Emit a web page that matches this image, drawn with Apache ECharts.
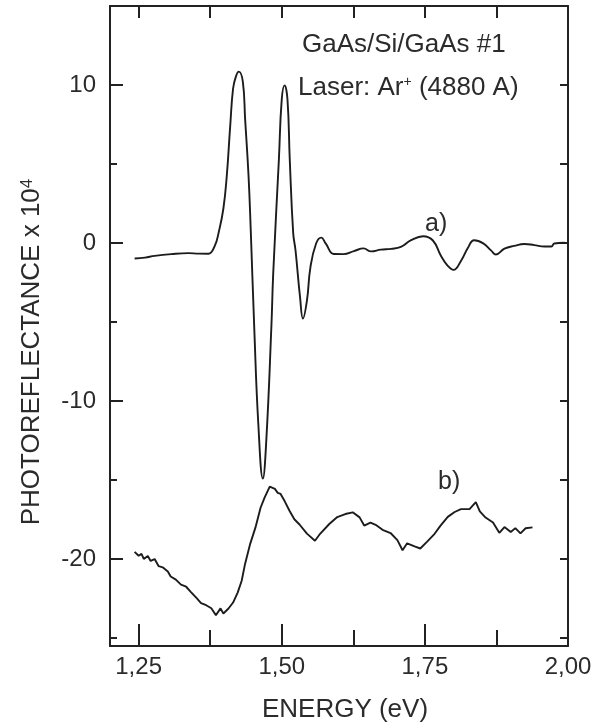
<!DOCTYPE html>
<html>
<head>
<meta charset="UTF-8">
<title>Photoreflectance GaAs/Si/GaAs</title>
<style>
  html, body { margin: 0; padding: 0; background: #fff; }
  #chart { width: 597px; height: 728px; }
</style>
</head>
<body>
<div id="chart"></div>
<script src="https://cdn.jsdelivr.net/npm/echarts@6/dist/echarts.min.js"></script>
<script>
// curve a) - laser Ar+ photoreflectance
var energyA = [1.243, 1.261, 1.278, 1.307, 1.337, 1.354, 1.372, 1.383, 1.390, 1.398,
  1.404, 1.410, 1.415, 1.420, 1.425, 1.432, 1.436, 1.442, 1.446, 1.452, 1.459,
  1.467, 1.473, 1.482, 1.485, 1.495, 1.500, 1.505, 1.510, 1.514, 1.520,
  1.524, 1.532, 1.537, 1.544, 1.550, 1.560, 1.569, 1.577, 1.591, 1.608,
  1.626, 1.643, 1.656, 1.673, 1.691, 1.708, 1.726, 1.747, 1.764, 1.778,
  1.790, 1.800, 1.813, 1.825, 1.836, 1.852, 1.866, 1.874, 1.889, 1.906,
  1.924, 1.941, 1.959, 1.971, 1.976, 1.994];
var valueA = [-0.98, -0.92, -0.81, -0.70, -0.64, -0.67, -0.68, -0.18, 0.70, 2.17,
  4.26, 7.43, 9.78, 10.55, 10.85, 10.22, 7.86, 4.24, 0.67, -5.40, -11.40,
  -14.90, -12.50, -5.19, -2.00, 5.29, 9.09, 9.98, 9.08, 5.27, 0.63,
  -0.45, -3.44, -4.78, -3.64, -1.55, -0.03, 0.34, -0.04, -0.69, -0.70,
  -0.51, -0.34, -0.53, -0.42, -0.37, -0.25, 0.18, 0.43, 0.16, -0.80,
  -1.44, -1.70, -1.14, -0.32, 0.18, -0.02, -0.48, -0.73, -0.36, -0.18,
  -0.06, -0.13, -0.22, -0.22, -0.03, 0.02];

// curve b)
var energyB = [1.243, 1.250, 1.255, 1.259, 1.266, 1.271, 1.278, 1.285, 1.292, 1.301,
  1.306, 1.315, 1.324, 1.333, 1.341, 1.351, 1.359, 1.368, 1.377, 1.385,
  1.393, 1.398, 1.407, 1.415, 1.423, 1.430, 1.436, 1.445, 1.454, 1.463,
  1.470, 1.479, 1.488, 1.493, 1.498, 1.505, 1.514, 1.522, 1.531, 1.544,
  1.558, 1.567, 1.583, 1.597, 1.611, 1.624, 1.636, 1.644, 1.655, 1.664,
  1.676, 1.690, 1.702, 1.711, 1.719, 1.732, 1.742, 1.754, 1.767, 1.777,
  1.790, 1.802, 1.813, 1.828, 1.839, 1.846, 1.856, 1.869, 1.880, 1.889,
  1.900, 1.908, 1.917, 1.926, 1.938];
var valueB = [-19.54, -19.79, -19.67, -19.99, -19.80, -20.12, -20.00, -20.45, -20.52, -20.78,
  -21.10, -21.30, -21.62, -21.75, -22.07, -22.46, -22.78, -22.92, -23.11, -23.56,
  -23.12, -23.44, -23.13, -22.75, -22.12, -21.37, -20.29, -19.02, -18.01, -16.75,
  -16.11, -15.42, -15.56, -15.81, -15.88, -16.33, -16.97, -17.48, -17.81, -18.39,
  -18.84, -18.40, -17.78, -17.34, -17.15, -17.04, -17.36, -17.88, -17.69, -17.83,
  -18.15, -18.35, -18.80, -19.44, -19.00, -19.20, -19.33, -18.89, -18.40, -17.90,
  -17.33, -17.02, -16.84, -16.84, -16.40, -16.98, -17.37, -17.69, -18.34, -17.97,
  -18.29, -18.04, -18.37, -18.05, -17.99];

// axis ticks / labels
var xLabelTicks = [1.25, 1.5, 1.75, 2.0];
var xMinorTicks = [1.375, 1.625, 1.875];
var xTopTicks = [1.25, 1.375, 1.5, 1.625, 1.75, 1.875];
var yLabelTicks = [10, 0, -10, -20];
var yMinorTicks = [5, -5, -15, -25];
var yRightTicks = [10, 5, 0, -5, -10, -15, -20, -25];

var font = 'Liberation Sans, Arial, sans-serif';
var ink = '#222';
var txt = '#2b2b2b';

function pairs(xs, ys) {
  var out = [];
  for (var i = 0; i < xs.length; i++) out.push([xs[i], ys[i]]);
  return out;
}

var mychart = echarts.init(document.getElementById('chart'));

var xBase = { type: 'value', min: 1.2, max: 2.0, splitLine: { show: false } };
var yBase = { type: 'value', min: -25.5, max: 15, splitLine: { show: false } };

var option = {
  animation: false,
  backgroundColor: '#fff',
  grid: { left: 110, right: 29, top: 6, bottom: 82 },
  xAxis: [
    Object.assign({}, xBase, {
      position: 'bottom',
      axisLine: { show: true, onZero: false, lineStyle: { color: ink, width: 2 } },
      axisTick: { show: true, inside: true, length: 22, customValues: xLabelTicks, lineStyle: { color: ink, width: 2 } },
      axisLabel: {
        customValues: xLabelTicks, fontSize: 24, fontFamily: font, color: txt, margin: 9,
        formatter: function (v) { return v.toFixed(2).replace('.', ','); }
      }
    }),
    Object.assign({}, xBase, {
      position: 'bottom',
      axisLine: { show: false, onZero: false },
      axisTick: { show: true, inside: true, length: 16, customValues: xMinorTicks, lineStyle: { color: ink, width: 2 } },
      axisLabel: { show: false }
    }),
    Object.assign({}, xBase, {
      position: 'top',
      axisLine: { show: true, onZero: false, lineStyle: { color: ink, width: 2 } },
      axisTick: { show: true, inside: true, length: 12, customValues: xTopTicks, lineStyle: { color: ink, width: 2 } },
      axisLabel: { show: false }
    })
  ],
  yAxis: [
    Object.assign({}, yBase, {
      position: 'left',
      axisLine: { show: true, onZero: false, lineStyle: { color: ink, width: 2 } },
      axisTick: { show: true, inside: true, length: 13, customValues: yLabelTicks, lineStyle: { color: ink, width: 2 } },
      axisLabel: {
        customValues: yLabelTicks, fontSize: 24, fontFamily: font, color: txt, margin: 14,
        formatter: function (v) { return String(v); }
      }
    }),
    Object.assign({}, yBase, {
      position: 'left',
      axisLine: { show: false, onZero: false },
      axisTick: { show: true, inside: true, length: 7, customValues: yMinorTicks, lineStyle: { color: ink, width: 2 } },
      axisLabel: { show: false }
    }),
    Object.assign({}, yBase, {
      position: 'right',
      axisLine: { show: true, onZero: false, lineStyle: { color: ink, width: 2 } },
      axisTick: { show: true, inside: true, length: 8, customValues: yRightTicks, lineStyle: { color: ink, width: 2 } },
      axisLabel: { show: false }
    })
  ],
  graphic: [
    {
      type: 'text', x: 32, y: 352, rotation: Math.PI / 2,
      style: {
        text: '{a|PHOTOREFLECTANCE x 10}{s|4}', align: 'center', verticalAlign: 'middle',
        rich: {
          a: { fontSize: 26, fontFamily: font, fill: txt },
          s: { fontSize: 17, fontFamily: font, fill: txt, verticalAlign: 'top' }
        }
      }
    },
    {
      type: 'text', x: 345, y: 710,
      style: { text: 'ENERGY (eV)', fontSize: 26, fontFamily: font, fill: txt, align: 'center', verticalAlign: 'middle' }
    },
    {
      type: 'text', x: 302, y: 45,
      style: { text: 'GaAs/Si/GaAs #1', fontSize: 26, fontFamily: font, fill: txt, align: 'left', verticalAlign: 'middle' }
    },
    {
      type: 'text', x: 298, y: 88,
      style: {
        text: '{a|Laser: Ar}{s|+}{a| (4880 A)}', align: 'left', verticalAlign: 'middle',
        rich: {
          a: { fontSize: 26, fontFamily: font, fill: txt },
          s: { fontSize: 14, fontFamily: font, fill: txt, verticalAlign: 'top' }
        }
      }
    },
    {
      type: 'text', x: 425, y: 224,
      style: { text: 'a)', fontSize: 25, fontFamily: font, fill: txt, align: 'left', verticalAlign: 'middle' }
    },
    {
      type: 'text', x: 438, y: 482,
      style: { text: 'b)', fontSize: 25, fontFamily: font, fill: txt, align: 'left', verticalAlign: 'middle' }
    }
  ],
  series: [
    {
      name: 'a)', type: 'line', xAxisIndex: 0, yAxisIndex: 0,
      data: pairs(energyA, valueA),
      showSymbol: false, smooth: 0.45,
      lineStyle: { color: '#1c1c1c', width: 1.9 }
    },
    {
      name: 'b)', type: 'line', xAxisIndex: 0, yAxisIndex: 0,
      data: pairs(energyB, valueB),
      showSymbol: false,
      lineStyle: { color: '#1c1c1c', width: 1.9 }
    }
  ]
};
mychart.setOption(option);
</script>
</body>
</html>
